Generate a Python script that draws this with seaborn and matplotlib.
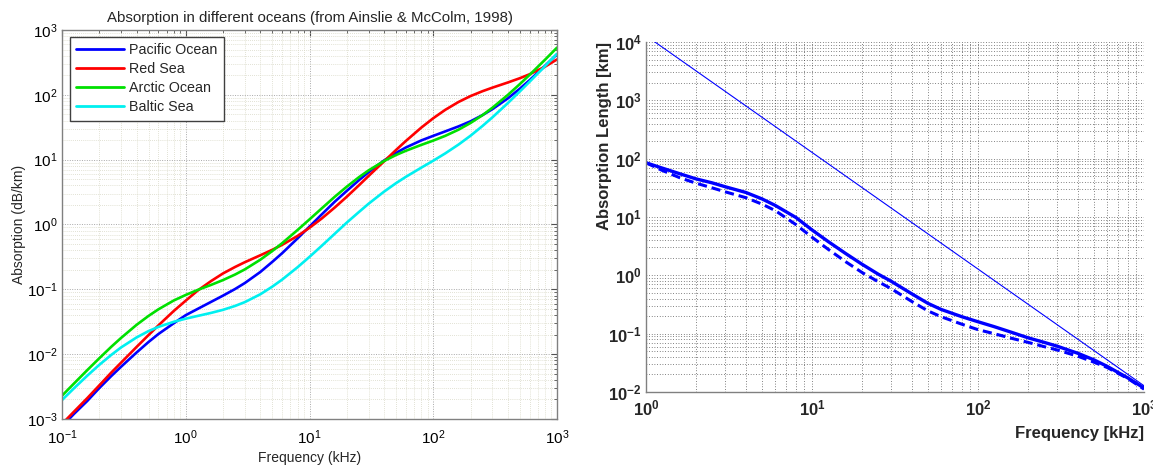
import numpy as np
import pandas as pd
import matplotlib
matplotlib.use("Agg")
import matplotlib.pyplot as plt
import seaborn as sns
from matplotlib.ticker import LogLocator, FuncFormatter, NullFormatter

# ---- absorption versus frequency in four seas (dB/km) ----
freq_khz = [0.1, 0.125, 0.16, 0.2, 0.25, 0.3, 0.4, 0.5, 0.6, 0.8, 1, 1.25,
            1.6, 2, 2.5, 3, 4, 5, 6, 8, 10, 12.5, 16, 20, 25, 30, 40, 50, 60,
            80, 100, 125, 160, 200, 250, 300, 400, 500, 600, 800, 1000]
pacific = [0.00077, 0.0012, 0.0019, 0.0030, 0.0046, 0.0064, 0.0106, 0.0154,
           0.0204, 0.030, 0.040, 0.050, 0.064, 0.080, 0.101, 0.125, 0.185,
           0.265, 0.36, 0.61, 0.93, 1.42, 2.25, 3.3, 4.8, 6.4, 9.7, 12.7,
           15.4, 19.8, 23.3, 27.3, 32.6, 39, 48.7, 60, 88, 124, 168, 280, 423]
red_sea = [0.00084, 0.0013, 0.0021, 0.0033, 0.0052, 0.0074, 0.0129, 0.0197,
           0.0277, 0.0464, 0.067, 0.096, 0.134, 0.176, 0.221, 0.262, 0.335,
           0.407, 0.485, 0.666, 0.89, 1.23, 1.83, 2.68, 4.0, 5.6, 9.4, 14.1,
           19.4, 31.2, 43.6, 58.7, 77.6, 95.7, 113.8, 128.9, 154.9, 180.3,
           207.5, 271.8, 351.6]
arctic = [0.00229, 0.00353, 0.00568, 0.00864, 0.0130, 0.0178, 0.0283, 0.0389,
          0.0491, 0.0673, 0.082, 0.098, 0.117, 0.139, 0.169, 0.203, 0.286,
          0.39, 0.514, 0.822, 1.2, 1.76, 2.68, 3.83, 5.34, 6.83, 9.53, 11.8,
          13.7, 16.9, 19.7, 23.3, 29.0, 36.8, 48.6, 63, 99.4, 146, 203, 348,
          535]
baltic = [0.00196, 0.00298, 0.00466, 0.00684, 0.00974, 0.0127, 0.0181,
          0.0227, 0.0263, 0.0316, 0.0353, 0.0389, 0.0433, 0.0483, 0.0554,
          0.0635, 0.0838, 0.11, 0.141, 0.219, 0.317, 0.466, 0.721, 1.07, 1.55,
          2.09, 3.21, 4.34, 5.43, 7.53, 9.64, 12.5, 17.1, 23.4, 33.1, 44.8,
          74.4, 112.5, 159, 277, 429]
oceans = ["Pacific Ocean", "Red Sea", "Arctic Ocean", "Baltic Sea"]
ocean_colours = ["#0000ff", "#ff0000", "#00e000", "#00f0f0"]

# ---- absorption length (km) ----
len_freq_khz = [1, 1.25, 1.6, 2, 2.5, 3, 4, 5, 6, 8, 10, 12.5, 16, 20, 25,
                30, 40, 50, 60, 80, 100, 125, 160, 200, 250, 300, 400, 500,
                600, 800, 1000]
length_solid = [85, 69, 55, 45, 38.5, 33, 26.3, 20.4, 15.8, 9.8, 6.0, 3.8,
                2.35, 1.55, 1.05, 0.79, 0.48, 0.33, 0.26, 0.195, 0.16, 0.132,
                0.105, 0.085, 0.071, 0.061, 0.046, 0.0355, 0.0275, 0.0174,
                0.0117]
length_dashed = [85, 63, 47, 38, 31.6, 27, 21.4, 16.6, 12.9, 7.4, 4.5, 2.8,
                 1.7, 1.12, 0.78, 0.59, 0.355, 0.245, 0.195, 0.145, 0.117,
                 0.1, 0.083, 0.071, 0.06, 0.0525, 0.041, 0.0324, 0.0263,
                 0.017, 0.0112]
ref_freq_khz = [1, 1000]
length_ref = [12800, 0.0128]

sns.set_theme(style="white")
plt.rcParams["font.family"] = ["Liberation Sans", "DejaVu Sans"]
plt.rcParams["mathtext.default"] = "regular"

fig = plt.figure(figsize=(11.53, 4.68), dpi=100)
ax1 = fig.add_axes([0.0538, 0.1047, 0.4293, 0.8312])
ax2 = fig.add_axes([0.5603, 0.1624, 0.4319, 0.7479])


def pow10(v, pos):
    return r"$10^{%d}$" % int(round(np.log10(v)))


def log_axes(ax):
    for axis in (ax.xaxis, ax.yaxis):
        axis.set_major_locator(LogLocator(base=10))
        axis.set_minor_locator(LogLocator(base=10, subs=np.arange(2, 10)))
        axis.set_major_formatter(FuncFormatter(pow10))
        axis.set_minor_formatter(NullFormatter())


# ---------- left panel ----------
ocean_df = pd.DataFrame({
    "Frequency": freq_khz * 4,
    "Absorption": pacific + red_sea + arctic + baltic,
    "Ocean": np.repeat(oceans, len(freq_khz)),
})
sns.lineplot(data=ocean_df, x="Frequency", y="Absorption", hue="Ocean",
             hue_order=oceans, palette=ocean_colours, estimator=None,
             linewidth=1.9, ax=ax1)
ax1.set_xscale("log")
ax1.set_yscale("log")
ax1.set_xlim(0.1, 1000)
ax1.set_ylim(1e-3, 1e3)
log_axes(ax1)
ax1.grid(True, which="major", linestyle=(0, (1, 1.5)), color="#a8a8a8",
         linewidth=0.7)
ax1.grid(True, which="minor", linestyle=(0, (1, 1.5)), color="#d8d8c6",
         linewidth=0.6)
ax1.tick_params(which="both", direction="in", top=True, right=True,
                colors="#505050", labelcolor="black", labelsize=11)
ax1.tick_params(which="major", length=4, width=0.8)
ax1.tick_params(which="minor", length=2, width=0.6)
ax1.tick_params(axis="x", pad=7)
ax1.tick_params(axis="y", pad=3)
for s in ax1.spines.values():
    s.set_color("#808080")
    s.set_linewidth(1.0)
ax1.set_title("Absorption in different oceans (from Ainslie & McColm, 1998)",
              fontsize=10.8, pad=6)
ax1.set_xlabel("Frequency (kHz)", fontsize=10, labelpad=3)
ax1.set_ylabel("Absorption (dB/km)", fontsize=10, labelpad=1)
leg = ax1.legend(loc="upper left", bbox_to_anchor=(0.016, 0.982),
                 borderaxespad=0, fontsize=10.3, handlelength=3.3,
                 labelspacing=0.35, fancybox=False, framealpha=1,
                 edgecolor="#404040", borderpad=0.45, handletextpad=0.4)
leg.get_frame().set_linewidth(1.0)
for h in leg.get_lines():
    h.set_linewidth(2.0)

# ---------- right panel ----------
solid_df = pd.DataFrame({"Frequency": len_freq_khz, "Length": length_solid})
dashed_df = pd.DataFrame({"Frequency": len_freq_khz, "Length": length_dashed})
ref_df = pd.DataFrame({"Frequency": ref_freq_khz, "Length": length_ref})
sns.lineplot(data=ref_df, x="Frequency", y="Length", color="#0000ff",
             linewidth=0.8, estimator=None, ax=ax2)
sns.lineplot(data=dashed_df, x="Frequency", y="Length", color="#0000ff",
             linewidth=2.2, linestyle=(0, (3.0, 1.6)), estimator=None, ax=ax2)
sns.lineplot(data=solid_df, x="Frequency", y="Length", color="#0000ff",
             linewidth=2.4, estimator=None, ax=ax2)
ax2.set_xscale("log")
ax2.set_yscale("log")
ax2.set_xlim(1, 1000)
ax2.set_ylim(1e-2, 1e4)
log_axes(ax2)
ax2.grid(True, which="both", linestyle=(0, (1, 2.5)), color="#3a3a3a",
         linewidth=0.55)
ax2.tick_params(which="both", direction="in", length=0, labelsize=12)
ax2.tick_params(axis="x", pad=5)
ax2.tick_params(axis="y", pad=3)
for lab in ax2.get_xticklabels() + ax2.get_yticklabels():
    lab.set_fontweight("bold")
ax2.spines["top"].set_visible(False)
ax2.spines["right"].set_visible(False)
for side in ("left", "bottom"):
    ax2.spines[side].set_color("#808080")
    ax2.spines[side].set_linewidth(1.0)
ax2.set_xlabel("Frequency [kHz]", fontsize=12, fontweight="bold", loc="right",
               labelpad=5)
ax2.set_ylabel("Absorption Length [km]", fontsize=12, fontweight="bold",
               loc="top", labelpad=-3)

fig.savefig("out.png", dpi=100)
